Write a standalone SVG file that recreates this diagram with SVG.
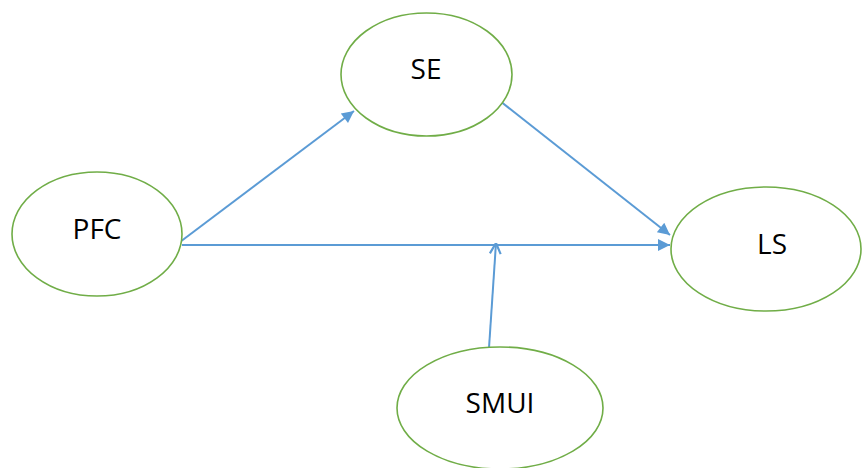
<svg xmlns="http://www.w3.org/2000/svg" width="862" height="468" viewBox="0 0 862 468">
<style>
.node ellipse{fill:#fff;stroke:#70AD47;stroke-width:1.6}
.node text{font-family:"Open Sans","Liberation Sans",sans-serif;font-size:28px;fill:#000;text-anchor:middle}
.edge{stroke:#5B9BD5;stroke-width:2;fill:none}
</style>
<defs>
<marker id="arr" viewBox="0 0 10 10" refX="10" refY="5" markerWidth="14" markerHeight="12" markerUnits="userSpaceOnUse" orient="auto">
<path d="M0,0 L10,5 L0,10 Z" fill="#5B9BD5"/>
</marker>
<marker id="open" viewBox="0 0 10 10" refX="10" refY="5" markerWidth="12" markerHeight="14" markerUnits="userSpaceOnUse" orient="auto">
<path d="M1,0.5 L10,5 L1,9.5" fill="none" stroke="#5B9BD5" stroke-width="1.8"/>
</marker>
</defs>
<rect width="862" height="468" fill="#fff"/>
<g id="connectors">
<line class="edge" x1="180" y1="242" x2="354" y2="111" marker-end="url(#arr)"/>
<line class="edge" x1="500" y1="101" x2="670" y2="235" marker-end="url(#arr)"/>
<line class="edge" x1="182" y1="245" x2="670" y2="245" marker-end="url(#arr)"/>
<line class="edge" x1="489" y1="348" x2="496" y2="243" marker-end="url(#open)"/>
</g>
<g id="SE" class="node"><ellipse cx="426.5" cy="74.5" rx="85.5" ry="61.5"/><text x="426" y="79">SE</text></g>
<g id="PFC" class="node"><ellipse cx="97" cy="234" rx="85" ry="62"/><text x="97" y="239">PFC</text></g>
<g id="LS" class="node"><ellipse cx="766" cy="249" rx="95" ry="62"/><text x="772" y="254">LS</text></g>
<g id="SMUI" class="node"><ellipse cx="500" cy="408" rx="103" ry="61"/><text x="500" y="413">SMUI</text></g>
</svg>
